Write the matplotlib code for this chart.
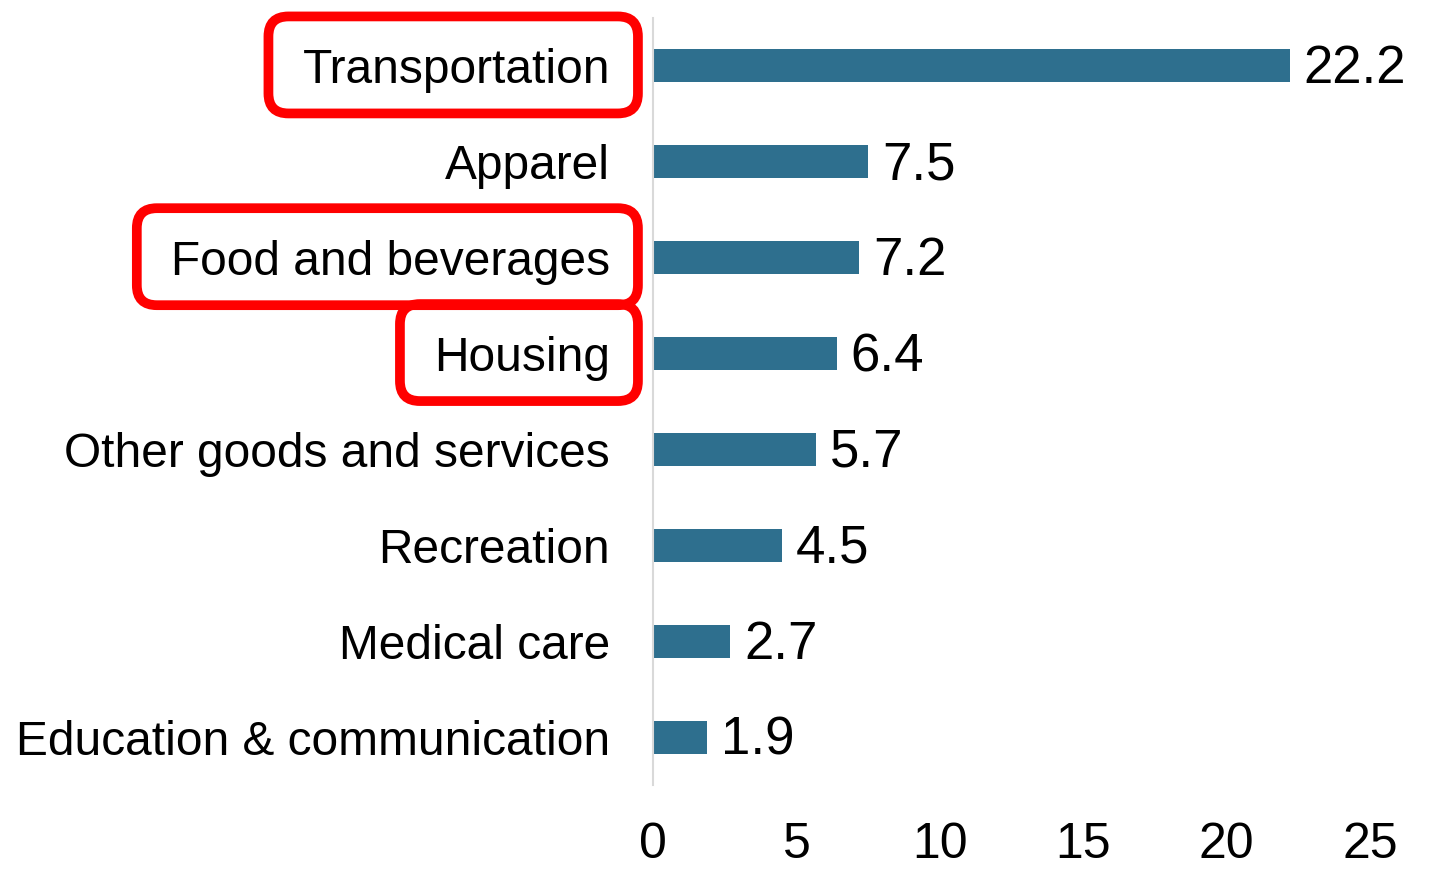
import matplotlib
matplotlib.use("Agg")
import matplotlib.pyplot as plt
from matplotlib.patches import FancyBboxPatch
from matplotlib.transforms import IdentityTransform

plt.rcParams['font.family'] = ['Liberation Sans', 'DejaVu Sans']

categories = ["Transportation", "Apparel", "Food and beverages", "Housing",
              "Other goods and services", "Recreation", "Medical care",
              "Education & communication"]
values = [22.2, 7.5, 7.2, 6.4, 5.7, 4.5, 2.7, 1.9]
xticks = [0, 5, 10, 15, 20, 25]
highlighted = ["Transportation", "Food and beverages", "Housing"]

W, H, DPI = 1440, 869, 100
fig = plt.figure(figsize=(W / DPI, H / DPI), dpi=DPI)
ax = fig.add_axes([653 / W, 1 - 785 / H, (1370 - 653) / W, (785 - 18) / H])

ypos = list(range(len(categories)))
ax.barh(ypos, values, height=0.345, color="#2E6F8E")
for y, v in zip(ypos, values):
    ax.annotate(f"{v:.1f}", (v, y), xytext=(10, -2.5), textcoords="offset points",
                ha="left", va="center", fontsize=38, color="black")

ax.set_xlim(0, 25)
ax.set_ylim(len(categories) - 0.5, -0.5)
ax.set_yticks(ypos)
ax.set_yticklabels(categories, fontsize=34.5)
ax.set_xticks(xticks)
ax.set_xticklabels([str(t) for t in xticks], fontsize=36)
ax.tick_params(axis="y", length=0, pad=31)
ax.tick_params(axis="x", length=0, pad=27)
for s in ["top", "right", "bottom"]:
    ax.spines[s].set_visible(False)
ax.spines["left"].set_color("#D9D9D9")
ax.spines["left"].set_linewidth(1.5)

fig.canvas.draw()
renderer = fig.canvas.get_renderer()
for lab in ax.get_yticklabels():
    if lab.get_text() in highlighted:
        bb = lab.get_window_extent(renderer)
        x0, x1 = bb.x0 - 34, bb.x1 + 28
        y0, y1 = bb.y0 - 20, bb.y1 + 32
        patch = FancyBboxPatch((x0, y0), x1 - x0, y1 - y0,
                               boxstyle="round,pad=0,rounding_size=20",
                               transform=IdentityTransform(), fill=False,
                               edgecolor="#FF0000", linewidth=7,
                               clip_on=False)
        fig.patches.append(patch)

fig.savefig("out.png", dpi=DPI, facecolor="white")
